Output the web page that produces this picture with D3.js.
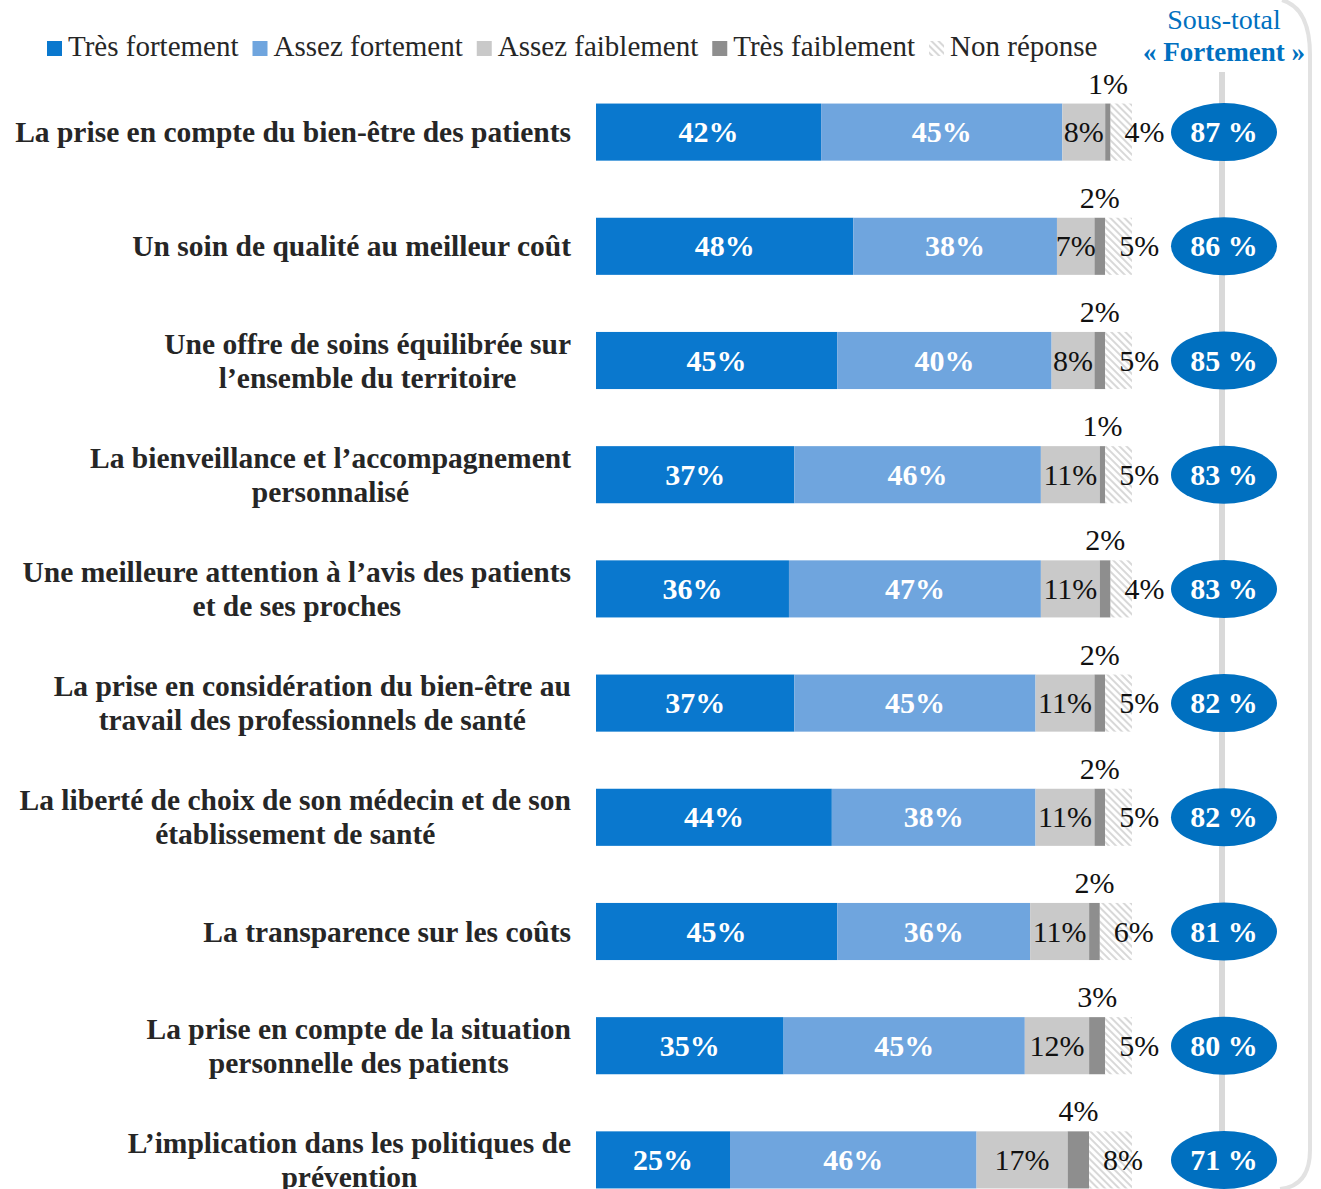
<!DOCTYPE html>
<html>
<head>
<meta charset="utf-8">
<script src="https://cdn.jsdelivr.net/npm/d3@7"></script>
<style>
  body { margin: 0; background: #fff; }
  svg text { font-family: "Liberation Serif", "Times New Roman", serif; }
</style>
</head>
<body>
<svg id="chart" width="1321" height="1189"></svg>
<script>
// categories (each label split in lines)
const categories = [
    ["La prise en compte du bien-être des patients"],
    ["Un soin de qualité au meilleur coût"],
    ["Une offre de soins équilibrée sur", "l’ensemble du territoire"],
    ["La bienveillance et l’accompagnement", "personnalisé"],
    ["Une meilleure attention à l’avis des patients", "et de ses proches"],
    ["La prise en considération du bien-être au", "travail des professionnels de santé"],
    ["La liberté de choix de son médecin et de son", "établissement de santé"],
    ["La transparence sur les coûts"],
    ["La prise en compte de la situation", "personnelle des patients"],
    ["L’implication dans les politiques de", "prévention"]
];
const seriesNames = ["Très fortement", "Assez fortement", "Assez faiblement", "Très faiblement", "Non réponse"];
const tresFortement   = [42, 48, 45, 37, 36, 37, 44, 45, 35, 25];
const assezFortement  = [45, 38, 40, 46, 47, 45, 38, 36, 45, 46];
const assezFaiblement = [8, 7, 8, 11, 11, 11, 11, 11, 12, 17];
const tresFaiblement  = [1, 2, 2, 1, 2, 2, 2, 2, 3, 4];
const nonReponse      = [4, 5, 5, 5, 4, 5, 5, 6, 5, 8];
const sousTotal       = [87, 86, 85, 83, 83, 82, 82, 81, 80, 71];

const colors = ["#0A78CE", "#6FA5DE", "#C9C9C9", "#8E8E8E", "url(#hatch)"];
const blue = "#0070C0";

const svg = d3.select("#chart");
const defs = svg.append("defs");
const pat = defs.append("pattern").attr("id", "hatch").attr("patternUnits", "userSpaceOnUse")
    .attr("width", 5).attr("height", 5).attr("patternTransform", "rotate(-45)");
pat.append("rect").attr("width", 5).attr("height", 5).attr("fill", "#fff");
pat.append("line").attr("x1", 1).attr("y1", 0).attr("x2", 1).attr("y2", 5)
    .attr("stroke", "#c4c4c4").attr("stroke-width", 1.3);

const keys = categories.map((c, i) => i);
const x = d3.scaleLinear().domain([0, 100]).range([596, 1132]);
const y = d3.scaleBand().domain(keys).range([75, 1217]).paddingInner(0.5).paddingOuter(0.25);

const rows = keys.map(i => {
    const vals = [tresFortement[i], assezFortement[i], assezFaiblement[i], tresFaiblement[i], nonReponse[i]];
    let acc = 0;
    return vals.map((v, s) => { const d = { i, s, v, x0: acc, x1: acc + v }; acc += v; return d; });
});

// right bracket + centre line
svg.append("path")
    .attr("d", "M1282,0 Q1310,8 1310,55 L1310,1150 Q1310,1186 1280,1189")
    .attr("fill", "none").attr("stroke", "#e2e2e2").attr("stroke-width", 4);
svg.append("line").attr("x1", 1222).attr("x2", 1222).attr("y1", 72).attr("y2", 1189)
    .attr("stroke", "#d9d9d9").attr("stroke-width", 6);

// legend
const legend = svg.append("g").attr("transform", "translate(47,56)");
let lx = 0;
seriesNames.forEach((n, s) => {
    legend.append("rect").attr("x", lx).attr("y", -15).attr("width", 15).attr("height", 15).attr("fill", colors[s]);
    const t = legend.append("text").attr("x", lx + 21).attr("y", 0).attr("font-size", 29).attr("fill", "#262626").text(n);
    lx += 21 + t.node().getComputedTextLength() + 14;
});

svg.append("text").attr("x", 1224).attr("y", 29).attr("text-anchor", "middle")
    .attr("font-size", 28).attr("fill", blue).text("Sous-total");
svg.append("text").attr("x", 1224).attr("y", 61).attr("text-anchor", "middle")
    .attr("font-size", 27).attr("font-weight", "bold").attr("fill", blue).text("« Fortement »");

// category labels: lines centred on each other, block right-aligned to 571
keys.forEach(i => {
    const lines = categories[i];
    const cy = y(i) + y.bandwidth() / 2;
    const t = svg.append("text").attr("text-anchor", "middle")
        .attr("font-size", 29.5).attr("font-weight", "bold").attr("fill", "#262626");
    const spans = lines.map((l, k) => t.append("tspan")
        .attr("y", cy + 10 + (k - (lines.length - 1) / 2) * 34).text(l));
    const w = d3.max(spans, s => s.node().getComputedTextLength());
    spans.forEach(s => s.attr("x", 571 - w / 2));
});

// bars
svg.append("g").selectAll("g").data(rows).join("g")
    .selectAll("rect").data(d => d).join("rect")
    .attr("x", d => x(d.x0)).attr("width", d => x(d.x1) - x(d.x0))
    .attr("y", d => y(d.i)).attr("height", y.bandwidth())
    .attr("fill", d => colors[d.s]);

// value labels
const lab = svg.append("g");
rows.flat().forEach(d => {
    const cy = y(d.i) + y.bandwidth() / 2 + 10;
    const t = lab.append("text").attr("font-size", 30).text(d.v + "%");
    if (d.s < 2) {
        t.attr("x", x((d.x0 + d.x1) / 2)).attr("y", cy).attr("text-anchor", "middle")
            .attr("fill", "#fff").attr("font-weight", "bold");
    } else if (d.s === 2) {
        t.attr("x", x((d.x0 + d.x1) / 2)).attr("y", cy).attr("text-anchor", "middle").attr("fill", "#111");
    } else if (d.s === 3) {
        t.attr("x", x((d.x0 + d.x1) / 2)).attr("y", y(d.i) - 10).attr("text-anchor", "middle").attr("fill", "#111");
    } else {
        t.attr("x", x(d.x0) + 14).attr("y", cy).attr("text-anchor", "start").attr("fill", "#111");
    }
});

// sous-total ellipses
const ell = svg.append("g").selectAll("g").data(keys).join("g")
    .attr("transform", i => `translate(1224,${y(i) + y.bandwidth() / 2})`);
ell.append("ellipse").attr("rx", 53).attr("ry", 29).attr("fill", blue);
ell.append("text").attr("text-anchor", "middle").attr("y", 10).attr("font-size", 30)
    .attr("font-weight", "bold").attr("fill", "#fff").text(i => sousTotal[i] + " %");
</script>
</body>
</html>
